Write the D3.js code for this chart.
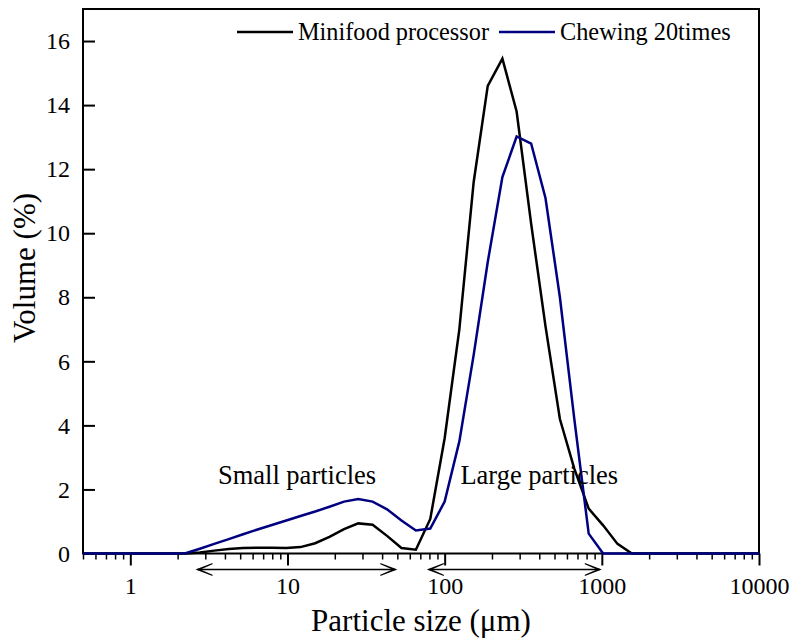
<!DOCTYPE html>
<html>
<head>
<meta charset="utf-8">
<script src="https://cdn.jsdelivr.net/npm/d3@7"></script>
<style>
body{margin:0;background:#fff;}
svg text{font-family:"Times New Roman",Times,"Liberation Serif","DejaVu Serif",serif !important;fill:#000;}
</style>
</head>
<body>
<div class="chart"></div>
<script>
var width=793,
    height=639;

// particle sizes (um) of the measurement classes
var sizes=[0.5,1.82,2.25,2.77,3.42,4.23,5.22,6.45,7.96,9.83,12.1,15.0,18.5,22.9,28.2,34.8,43.0,53.1,65.6,81.0,
           100,124,153,188,233,287,355,438,541,668,825,1019,1258,1553,10000];
// volume (%)
var minifood=[0,0,0,0.03,0.09,0.14,0.17,0.18,0.18,0.17,0.2,0.32,0.52,0.76,0.94,0.9,0.55,0.17,0.12,1.08,
              3.6,7.0,11.6,14.6,15.45,13.8,10.3,7.1,4.2,2.65,1.4,0.88,0.3,0,0];
var chewing=[0,0,0.01,0.15,0.3,0.45,0.6,0.75,0.89,1.03,1.17,1.31,1.46,1.62,1.7,1.62,1.38,1.03,0.72,0.78,
             1.62,3.5,6.2,9.1,11.75,13.02,12.8,11.1,8.0,4.2,0.62,0,0,0,0];

var seriesNames=['Minifood processor','Chewing 20times'];
var seriesColors=['#000000','#000080'];

var xMajor=[1,10,100,1000,10000];
var yTicks=[0,2,4,6,8,10,12,14,16];

// annotated size ranges
var rangeNames=['Small particles','Large particles'];
var rangeFrom=[2.6,77];
var rangeTo=[50,1000];
var rangeLabelX=[11.5,400];
var rangeLabelY=[2.2,2.2];

var fontFam='"Times New Roman", Times, "Liberation Serif", "DejaVu Serif", serif';

var x=d3.scaleLog().domain([0.5,10000]).range([83,759]);
var y=d3.scaleLinear().domain([0,17]).range([553.5,9]);

var xMinor=[];
[0.1,1,10,100,1000].forEach(function(dec){
    for(var m=2;m<=9;m++){
        var v=dec*m;
        if(v>=0.5&&v<=10000) xMinor.push(v);
    }
});

var svg=d3.select('.chart')
    .append('svg')
        .attr('width',width)
        .attr('height',height)
        .attr('font-family',fontFam);

// minor x ticks
svg.append('g')
    .attr('transform','translate(0,'+y(0)+')')
    .call(d3.axisBottom(x).tickValues(xMinor).tickSize(6).tickFormat(''))
    .call(g=>g.select('.domain').remove())
    .selectAll('line').attr('stroke-width',1.5);

// major x ticks
var gx=svg.append('g')
    .attr('transform','translate(0,'+y(0)+')')
    .call(d3.axisBottom(x).tickValues(xMajor).tickSize(12).tickPadding(11.5).tickFormat(d3.format('d')));
gx.attr('font-family',fontFam);
gx.select('.domain').remove();
gx.selectAll('line').attr('stroke-width',2);
gx.selectAll('text').attr('font-size',24);

// y ticks (pointing inward)
var gy=svg.append('g')
    .attr('transform','translate('+x(0.5)+',0)')
    .call(d3.axisLeft(y).tickValues(yTicks).tickSizeInner(-12).tickSizeOuter(0).tickPadding(13));
gy.attr('font-family',fontFam);
gy.select('.domain').remove();
gy.selectAll('line').attr('stroke-width',2);
gy.selectAll('text').attr('font-size',24);

// frame
svg.append('rect')
    .attr('x',x(0.5))
    .attr('y',y(17))
    .attr('width',x(10000)-x(0.5))
    .attr('height',y(0)-y(17))
    .attr('fill','none')
    .attr('stroke','black')
    .attr('stroke-width',2);

var line=d3.line()
    .x(d=>x(d[0]))
    .y(d=>y(d[1]));

[minifood,chewing].forEach(function(vals,i){
    svg.append('path')
        .datum(sizes.map((s,j)=>[s,vals[j]]))
        .attr('d',line)
        .attr('fill','none')
        .attr('stroke',seriesColors[i])
        .attr('stroke-width',2.5);
});

// legend
var legendX=[237,499];
seriesNames.forEach(function(name,i){
    svg.append('line')
        .attr('x1',legendX[i]).attr('x2',legendX[i]+56)
        .attr('y1',32).attr('y2',32)
        .attr('stroke',seriesColors[i])
        .attr('stroke-width',2.5);
    svg.append('text')
        .attr('x',legendX[i]+61)
        .attr('y',39.5)
        .attr('font-size',24.3)
        .text(name);
});

// range arrows and labels
var arrowY=569.5;
function arrowHead(xTip,dir){
    var p=d3.path();
    p.moveTo(xTip,arrowY);
    p.lineTo(xTip+dir*17,arrowY-6.5);
    p.lineTo(xTip+dir*17,arrowY-5.2);
    p.lineTo(xTip+dir*5,arrowY);
    p.lineTo(xTip+dir*17,arrowY+5.2);
    p.lineTo(xTip+dir*17,arrowY+6.5);
    p.closePath();
    svg.append('path').attr('d',p.toString()).attr('fill','black');
}
rangeNames.forEach(function(name,i){
    var x1=x(rangeFrom[i]),x2=x(rangeTo[i]);
    svg.append('line')
        .attr('x1',x1+2).attr('x2',x2-2)
        .attr('y1',arrowY).attr('y2',arrowY)
        .attr('stroke','black')
        .attr('stroke-width',1.3);
    arrowHead(x1,1);
    arrowHead(x2,-1);
    svg.append('text')
        .attr('x',x(rangeLabelX[i]))
        .attr('y',y(rangeLabelY[i])+1)
        .attr('text-anchor','middle')
        .attr('font-size',26.5)
        .text(name);
});

// axis titles
svg.append('text')
    .attr('x',421)
    .attr('y',631)
    .attr('text-anchor','middle')
    .attr('font-size',31)
    .text('Particle size (\u03bcm)');

svg.append('text')
    .attr('transform','translate(35,268) rotate(-90)')
    .attr('text-anchor','middle')
    .attr('font-size',31)
    .text('Volume (%)');
</script>
</body>
</html>
